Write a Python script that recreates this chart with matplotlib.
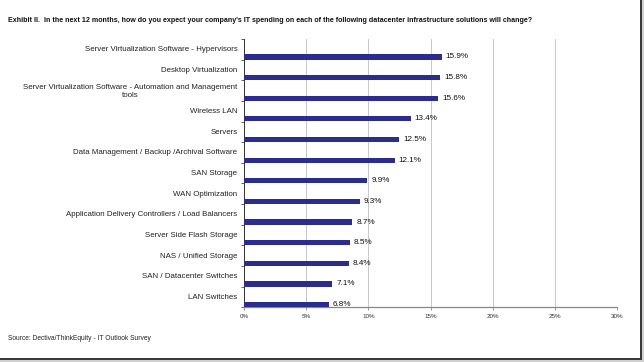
import matplotlib
matplotlib.use("Agg")
import matplotlib.pyplot as plt
from matplotlib.patches import Rectangle

plt.rcParams['font.family'] = ['Liberation Sans', 'DejaVu Sans']

categories = [
    "Server Virtualization Software - Hypervisors",
    "Desktop Virtualization",
    "Server Virtualization Software - Automation and Management\ntools",
    "Wireless LAN",
    "Servers",
    "Data Management / Backup /Archival Software",
    "SAN Storage",
    "WAN Optimization",
    "Application Delivery Controllers / Load Balancers",
    "Server Side Flash Storage",
    "NAS / Unified Storage",
    "SAN / Datacenter Switches",
    "LAN Switches",
]
values = [15.9, 15.8, 15.6, 13.4, 12.5, 12.1, 9.9, 9.3, 8.7, 8.5, 8.4, 7.1, 6.8]
xticks = [0, 5, 10, 15, 20, 25, 30]
xticklabels = ["0%", "5%", "10%", "15%", "20%", "25%", "30%"]

title = ("Exhibit II.  In the next 12 months, how do you expect your company's IT spending "
         "on each of the following datacenter infrastructure solutions will change?")
source = "Source: Dectiva/ThinkEquity - IT Outlook Survey"

W, H = 644, 362
fig = plt.figure(figsize=(W / 100, H / 100), dpi=100)
fig.patch.set_facecolor('white')

ax = fig.add_axes([244.3 / W, 1 - 307.3 / H, (616.7 - 244.3) / W, (307.3 - 39) / H])

n = len(categories)
pos = list(range(n))
bar_pos = [p + 0.87 for p in pos]
label_pos = [p + 0.47 for p in pos]

ax.barh(bar_pos, values, height=0.25, color='#2B2D8E', zorder=3)
for y, v in zip(bar_pos, values):
    ax.annotate(f"{v}%", xy=(v, y), xytext=(3, 0), textcoords='offset points',
                va='center', ha='left', fontsize=5.9, color='#111111', zorder=4)

ax.set_xlim(0, 30)
ax.set_ylim(n, 0)
ax.set_xticks(xticks)
ax.set_xticklabels(xticklabels, fontsize=4.5, color='#333333')
ax.tick_params(axis='x', direction='out', length=2, width=0.6, color='#888888', pad=2.5)

ax.set_yticks(list(range(n + 1)))
ax.set_yticklabels([])
ax.tick_params(axis='y', which='major', direction='out', length=2.5, width=0.6, color='#444444')
ax.set_yticks(label_pos, minor=True)
ax.set_yticklabels(categories, minor=True, fontsize=5.7, color='#222222')
ax.tick_params(axis='y', which='minor', length=0, pad=5)
for t in ax.get_yticklabels(minor=True):
    t.set_multialignment('center')
    t.set_linespacing(1.15)

ax.grid(axis='x', color='#c8c8c8', linewidth=0.7, zorder=0)
ax.spines['top'].set_visible(False)
ax.spines['right'].set_visible(False)
ax.spines['left'].set_color('#333333')
ax.spines['left'].set_linewidth(0.7)
ax.spines['bottom'].set_color('#888888')
ax.spines['bottom'].set_linewidth(0.9)

fig.text(8 / W, 1 - 20 / H, title, fontsize=5.15, fontweight='bold', va='center', ha='left', color='#111111')
fig.text(8 / W, 1 - 339 / H, source, fontsize=4.75, va='center', ha='left', color='#222222')

# screenshot frame with shadow (right and bottom)
def frect(x0, y0, x1, y1, c):
    fig.patches.append(Rectangle((x0 / W, 1 - y1 / H), (x1 - x0) / W, (y1 - y0) / H,
                                 transform=fig.transFigure, facecolor=c, edgecolor='none', zorder=10))

frect(641, 0, 644, 362, '#d0d0d0')
frect(0, 359, 644, 362, '#d0d0d0')
frect(639.5, 0, 641.5, 359.5, '#3a3a3a')
frect(0, 357.5, 641.5, 359.5, '#3a3a3a')

fig.savefig('out.png', dpi=100, facecolor='white')
